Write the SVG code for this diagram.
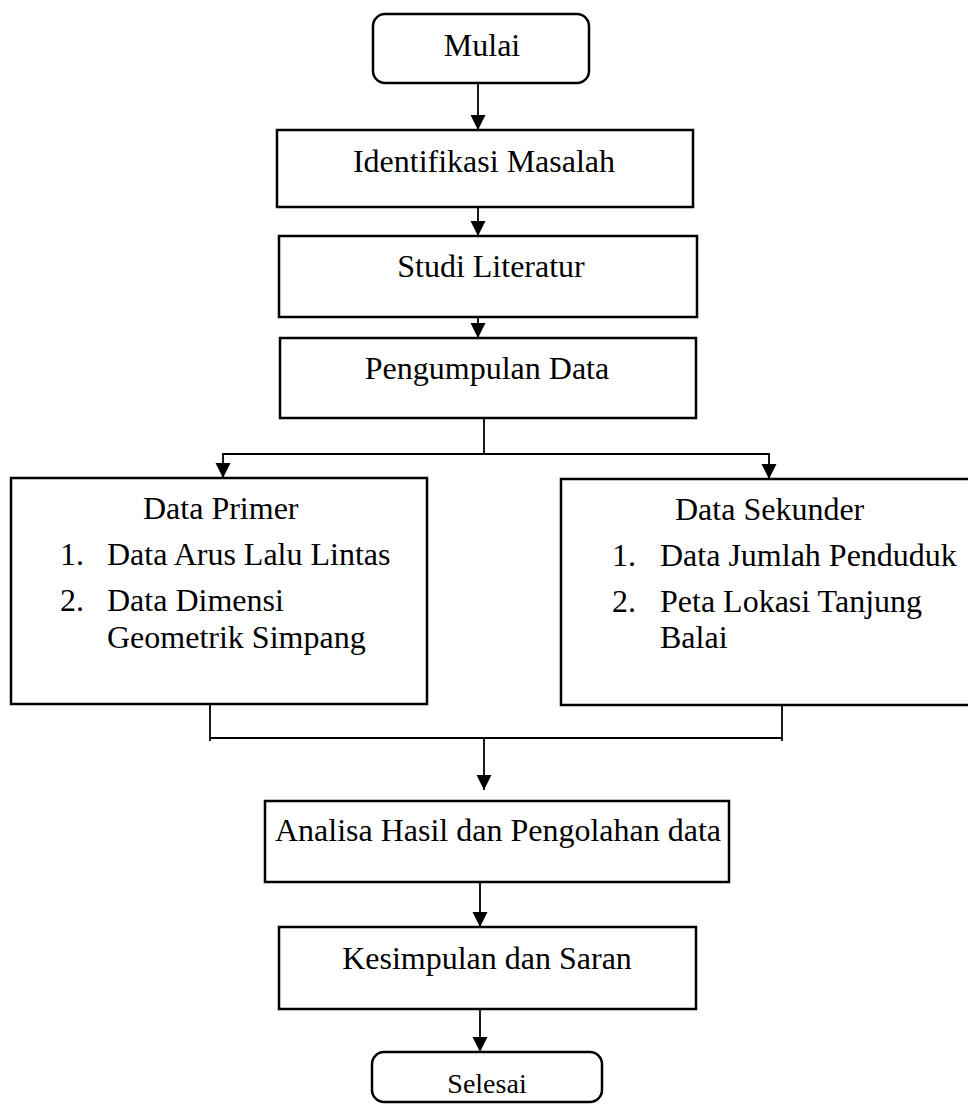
<svg xmlns="http://www.w3.org/2000/svg" width="968" height="1104" viewBox="0 0 968 1104">
<style>
.box{fill:#fff;stroke:#000;stroke-width:2.5}
.t{font-family:"Liberation Serif","Times New Roman",serif;font-size:32px;fill:#000}
.m{text-anchor:middle}
.c{fill:none;stroke:#000;stroke-width:1.8}
</style>
<defs>
<marker id="ah" markerUnits="userSpaceOnUse" markerWidth="16" markerHeight="16" refX="15" refY="7.5" orient="auto">
<path d="M0,0 L15,7.5 L0,15 z" fill="#000"/>
</marker>
</defs>
<rect width="968" height="1104" fill="#fff"/>
<g id="connectors">
<line class="c" x1="478" y1="83" x2="478" y2="130" marker-end="url(#ah)"/>
<line class="c" x1="478" y1="207" x2="478" y2="236" marker-end="url(#ah)"/>
<line class="c" x1="478" y1="317" x2="478" y2="338" marker-end="url(#ah)"/>
<polyline class="c" points="484,418 484,454"/>
<polyline class="c" points="484,454 223,454 223,478" marker-end="url(#ah)"/>
<polyline class="c" points="484,454 769,454 769,479" marker-end="url(#ah)"/>
<polyline class="c" points="210,704 210,741"/>
<polyline class="c" points="782,702 782,741"/>
<polyline class="c" points="210,738 782,738"/>
<line class="c" x1="484" y1="738" x2="484" y2="790" marker-end="url(#ah)"/>
<line class="c" x1="480" y1="882" x2="480" y2="927" marker-end="url(#ah)"/>
<line class="c" x1="480" y1="1009" x2="480" y2="1052" marker-end="url(#ah)"/>
</g>
<g id="mulai">
<rect class="box" x="373" y="14" width="216" height="69" rx="12"/>
<text class="t m" x="482" y="56">Mulai</text>
</g>
<g id="identifikasi">
<rect class="box" x="277" y="130" width="416" height="77"/>
<text class="t m" x="484" y="172">Identifikasi Masalah</text>
</g>
<g id="studi">
<rect class="box" x="279" y="236" width="418" height="81"/>
<text class="t m" x="491" y="277">Studi Literatur</text>
</g>
<g id="pengumpulan">
<rect class="box" x="280" y="338" width="416" height="80"/>
<text class="t m" x="487" y="379">Pengumpulan Data</text>
</g>
<g id="primer">
<rect class="box" x="11" y="478" width="416" height="226"/>
<text class="t" x="143" y="519">Data Primer</text>
<text class="t" x="60" y="565">1.</text>
<text class="t" x="107" y="565">Data Arus Lalu Lintas</text>
<text class="t" x="60" y="611">2.</text>
<text class="t" x="107" y="611">Data Dimensi</text>
<text class="t" x="107" y="648">Geometrik Simpang</text>
</g>
<g id="sekunder">
<rect class="box" x="561" y="479" width="412" height="226"/>
<text class="t" x="675" y="520">Data Sekunder</text>
<text class="t" x="612" y="566">1.</text>
<text class="t" x="660" y="566">Data Jumlah Penduduk</text>
<text class="t" x="612" y="612">2.</text>
<text class="t" x="660" y="612">Peta Lokasi Tanjung</text>
<text class="t" x="660" y="648">Balai</text>
</g>
<g id="analisa">
<rect class="box" x="265" y="801" width="464" height="81"/>
<text class="t m" x="498" y="841">Analisa Hasil dan Pengolahan data</text>
</g>
<g id="kesimpulan">
<rect class="box" x="279" y="927" width="417" height="82"/>
<text class="t m" x="487" y="969">Kesimpulan dan Saran</text>
</g>
<g id="selesai">
<rect class="box" x="372" y="1052" width="230" height="50" rx="12"/>
<text class="t m" x="487" y="1093" style="font-size:28px">Selesai</text>
</g>
</svg>
